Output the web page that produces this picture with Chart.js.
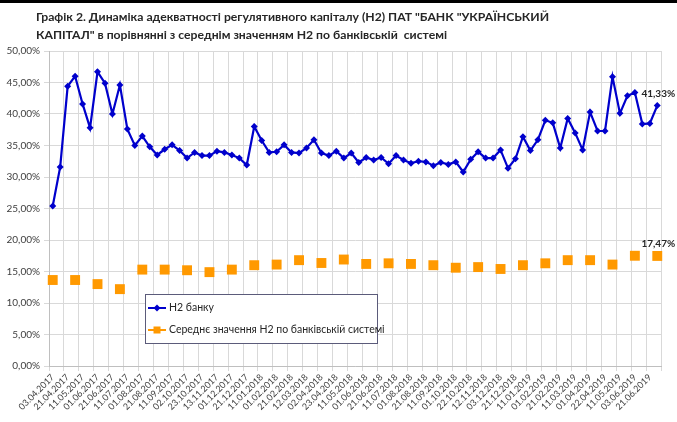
<!DOCTYPE html>
<html>
<head>
<meta charset="utf-8">
<script src="https://cdn.jsdelivr.net/npm/chart.js@4.4.1/dist/chart.umd.min.js"></script>
<style>
  html, body { margin: 0; padding: 0; background: #fff; }
  #wrap { position: relative; width: 677px; height: 422px; overflow: hidden; }
  #topLine { position: absolute; left: 0; top: 0; width: 677px; height: 3px; background: #000; }
  #title { position: absolute; left: 36px; top: 8px; font: bold 12.2px Lato, sans-serif; line-height: 18px; color: #262626; white-space: nowrap; }
  #chart { position: absolute; left: 0; top: 0; }
</style>
</head>
<body>
<div id="wrap">
  <canvas id="chart" width="677" height="422"></canvas>
  <div id="topLine"></div>
  <div id="title">Графік 2. Динаміка адекватності регулятивного капіталу (Н2) ПАТ "БАНК "УКРАЇНСЬКИЙ<br>КАПІТАЛ" в порівнянні з середнім значенням Н2 по банківській&nbsp; системі</div>
</div>
<script>
// підписи осі X (кожна друга дата)
const tickLabels = ['03.04.2017', '21.04.2017', '11.05.2017', '01.06.2017', '21.06.2017', '11.07.2017',
  '01.08.2017', '21.08.2017', '11.09.2017', '02.10.2017', '23.10.2017', '13.11.2017', '01.12.2017',
  '21.12.2017', '11.01.2018', '01.02.2018', '21.02.2018', '12.03.2018', '02.04.2018', '23.04.2018',
  '11.05.2018', '01.06.2018', '21.06.2018', '11.07.2018', '01.08.2018', '21.08.2018', '11.09.2018',
  '01.10.2018', '22.10.2018', '12.11.2018', '03.12.2018', '21.12.2018', '11.01.2019', '01.02.2019',
  '21.02.2019', '11.03.2019', '01.04.2019', '22.04.2019', '11.05.2019', '03.06.2019', '21.06.2019'];

// Н2 банку, %
const bankH2 = [25.4, 31.6, 44.4, 46.0, 41.6, 37.8, 46.7, 44.9, 40.0, 44.6,
  37.6, 35.0, 36.5, 34.8, 33.5, 34.4, 35.1, 34.2, 33.0, 33.9,
  33.4, 33.4, 34.1, 33.9, 33.5, 33.0, 31.9, 38.0, 35.8, 33.9,
  34.0, 35.1, 33.9, 33.8, 34.6, 35.9, 33.8, 33.4, 34.1, 33.0,
  33.8, 32.3, 33.1, 32.7, 33.1, 32.1, 33.4, 32.7, 32.2, 32.5,
  32.4, 31.8, 32.3, 32.0, 32.4, 30.8, 32.8, 34.0, 33.0, 33.0,
  34.3, 31.4, 32.9, 36.4, 34.2, 35.9, 39.0, 38.6, 34.6, 39.3,
  37.0, 34.3, 40.3, 37.3, 37.3, 45.9, 40.1, 42.9, 43.4, 38.4,
  38.5, 41.33];

// середнє значення Н2 по банківській системі, % (щомісяця)
const systemH2 = [13.65, 13.65, 13.0, 12.2, 15.3, 15.3, 15.2, 14.9, 15.3, 16.0,
  16.1, 16.8, 16.35, 16.9, 16.2, 16.3, 16.2, 16.0, 15.6, 15.7,
  15.4, 16.0, 16.3, 16.8, 16.8, 16.1, 17.5, 17.47];

const seriesNames = ['Н2 банку', 'Середнє значення Н2 по банківській системі'];

const BLUE = '#0000cc';
const ORANGE = '#ff9900';
const GRID = '#d9d9d9';

// категорії: три дати на місяць, підписана кожна друга
const categories = bankH2.map((v, i) => i % 2 === 0 ? (tickLabels[i / 2] || '') : '');
// місячні значення стоять на кожній третій категорії
const systemData = bankH2.map((v, i) => i % 3 === 0 && systemH2[i / 3] !== undefined ? systemH2[i / 3] : null);

const fmt = v => v.toFixed(2).replace('.', ',') + '%';

// підписи останніх значень
const lastValueLabels = {
  id: 'lastValueLabels',
  afterDatasetsDraw(chart) {
    const c = chart.ctx;
    c.save();
    c.font = 'bold 10px Lato, sans-serif';
    c.fillStyle = '#262626';
    c.textAlign = 'center';
    c.textBaseline = 'bottom';
    chart.data.datasets.forEach((ds, i) => {
      let j = ds.data.length - 1;
      while (j >= 0 && ds.data[j] == null) j--;
      const p = chart.getDatasetMeta(i).data[j];
      c.fillText(fmt(ds.data[j]), p.x + 1, p.y - 7);
    });
    c.restore();
  }
};

// легенда всередині області графіка
const boxLegend = {
  id: 'boxLegend',
  afterDraw(chart) {
    const c = chart.ctx;
    const a = chart.chartArea;
    const x = a.left + 96, y = a.top + 243, w = 232, h = 49;
    c.save();
    c.fillStyle = '#fff';
    c.fillRect(x, y, w, h);
    c.strokeStyle = '#5b5b7a';
    c.lineWidth = 1;
    c.strokeRect(x + 0.5, y + 0.5, w, h);

    c.font = '10.5px Lato, sans-serif';
    c.textBaseline = 'middle';
    c.fillStyle = '#262626';

    // Н2 банку
    let ly = y + 14;
    c.strokeStyle = BLUE;
    c.lineWidth = 2;
    c.beginPath(); c.moveTo(x + 3, ly); c.lineTo(x + 21, ly); c.stroke();
    c.fillStyle = BLUE;
    c.beginPath(); c.moveTo(x + 12, ly - 3.5); c.lineTo(x + 15.5, ly); c.lineTo(x + 12, ly + 3.5); c.lineTo(x + 8.5, ly); c.closePath(); c.fill();
    c.fillStyle = '#262626';
    c.fillText(seriesNames[0], x + 24, ly);

    // середнє по системі
    ly = y + 36;
    c.strokeStyle = ORANGE;
    c.beginPath(); c.moveTo(x + 3, ly); c.lineTo(x + 21, ly); c.stroke();
    c.fillStyle = ORANGE;
    c.fillRect(x + 8.5, ly - 3.5, 7, 7);
    c.fillStyle = '#262626';
    c.fillText(seriesNames[1], x + 24, ly);
    c.restore();
  }
};

new Chart(document.getElementById('chart'), {
  type: 'line',
  data: {
    labels: categories,
    datasets: [{
      label: seriesNames[0],
      data: bankH2,
      borderColor: BLUE,
      backgroundColor: BLUE,
      borderWidth: 2.2,
      pointStyle: 'rectRot',
      pointRadius: 3.5,
      pointBorderWidth: 0,
      tension: 0
    }, {
      label: seriesNames[1],
      data: systemData,
      showLine: false,
      borderColor: ORANGE,
      backgroundColor: ORANGE,
      pointStyle: 'rect',
      pointRadius: 7,
      pointBorderWidth: 0
    }]
  },
  options: {
    responsive: false,
    animation: false,
    layout: { padding: { top: 51, right: 16, left: 0, bottom: 0 } },
    plugins: {
      legend: { display: false },
      tooltip: { enabled: false },
      title: { display: false }
    },
    scales: {
      x: {
        offset: true,
        grid: {
          offset: true,
          color: ctx => (ctx.index === undefined || ctx.index % 2 === 0) ? GRID : 'rgba(0,0,0,0)',
          tickLength: 5
        },
        border: { color: '#bfbfbf' },
        ticks: {
          autoSkip: false,
          minRotation: 45,
          maxRotation: 45,
          padding: 1,
          color: '#404040',
          font: { family: 'Lato', size: 9 }
        },
        afterFit: s => { s.height = 56; }
      },
      y: {
        min: 0,
        max: 50,
        grid: { color: GRID, tickLength: 5 },
        border: { color: '#bfbfbf' },
        ticks: {
          stepSize: 5,
          padding: 4,
          color: '#404040',
          font: { family: 'Lato', size: 10 },
          callback: v => fmt(v)
        },
        afterFit: s => { s.width = 49; }
      }
    }
  },
  plugins: [lastValueLabels, boxLegend]
});
</script>
</body>
</html>
